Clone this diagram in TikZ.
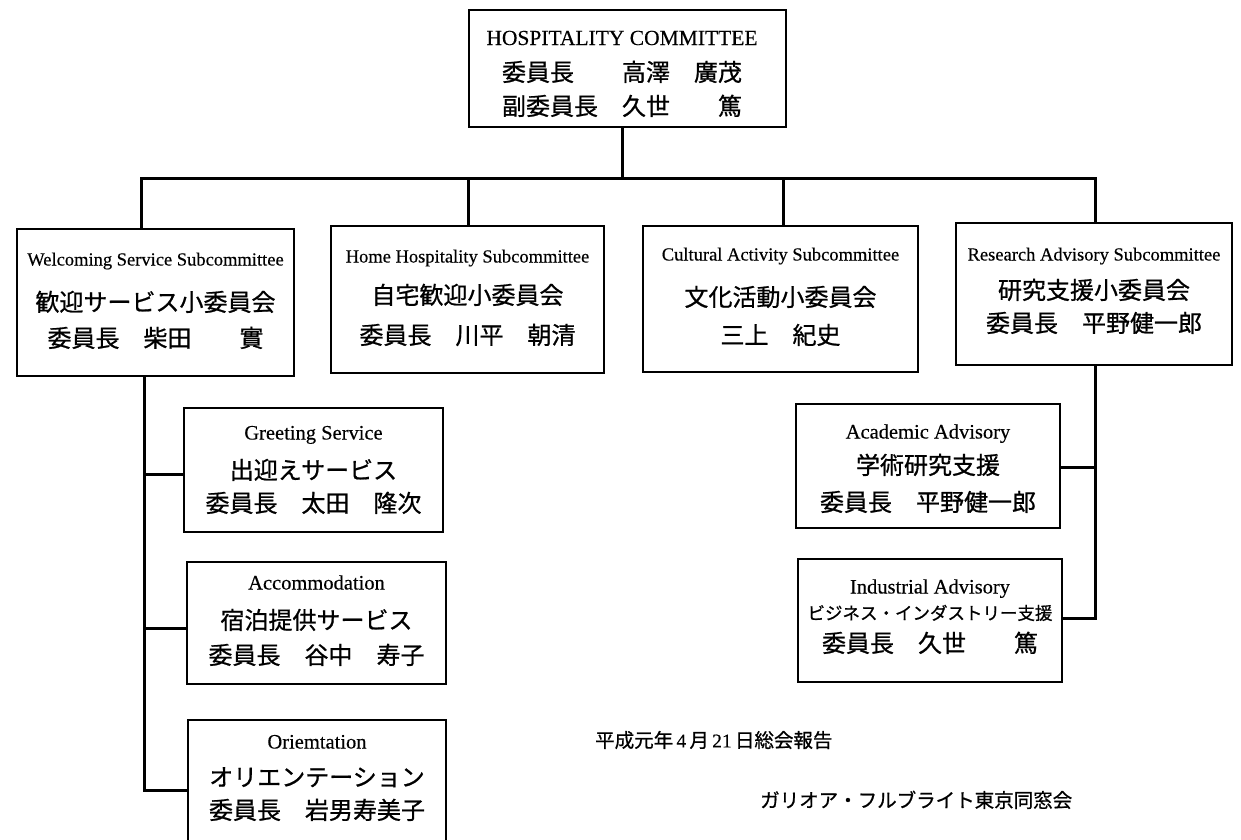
\documentclass[tikz,border=0pt]{standalone}
\usepackage{fontspec}
\setmainfont{Liberation Serif}[FakeBold=0.3]
\newfontfamily\jpfont{Noto Sans CJK JP}[FakeBold=0.8]
\newfontfamily\digitfont{Liberation Serif}[FakeBold=0.3]
\begin{document}
\begin{tikzpicture}[x=1pt,y=-1pt,
  box/.style 2 args={draw,line width=1.7pt,inner sep=0pt,minimum width=#1,minimum height=#2},
  ttl/.style={font=\fontsize{21.5}{24}\selectfont,anchor=base,yshift=-7pt,inner sep=0pt},
  en/.style={font=\fontsize{18.5}{20}\selectfont,anchor=base,yshift=-5.5pt,inner sep=0pt},
  ens/.style={font=\fontsize{20.5}{22}\selectfont,anchor=base,yshift=-6.5pt,inner sep=0pt},
  jp/.style={font=\jpfont\fontsize{24}{26}\selectfont,anchor=base,yshift=-9pt,inner sep=0pt},
  jps/.style={font=\jpfont\fontsize{17.5}{20}\selectfont,anchor=base,yshift=-6.6pt,inner sep=0pt},
  note/.style={font=\jpfont\fontsize{19.5}{22}\selectfont,anchor=base west,yshift=-7.4pt,inner sep=0pt},
  wire/.style={line width=3pt}]
\useasboundingbox[fill=white] (0,0) rectangle (1241,839);
\clip (0,0) rectangle (1241,839);

% boxes
\node[box={317pt}{117pt}] (top) at (627.5,68.5) {};
\node[box={277pt}{147pt}] (wel) at (155.5,302.5) {};
\node[box={273pt}{147pt}] (home) at (467.5,299.5) {};
\node[box={275pt}{146pt}] (cult) at (780.5,299) {};
\node[box={276pt}{142pt}] (res) at (1094,294) {};
\node[box={259pt}{124pt}] (greet) at (313.5,470) {};
\node[box={259pt}{122pt}] (accom) at (316.5,623) {};
\node[box={258pt}{140pt}] (orient) at (317,790) {};
\node[box={264pt}{124pt}] (acad) at (928,466) {};
\node[box={264pt}{123pt}] (ind) at (930,620.5) {};

% texts
\node[ttl] (top-en) at (622,38) {HOSPITALITY COMMITTEE};
\node[jp] (top-j1) at (622,72) {委員長　　高澤　廣茂};
\node[jp] (top-j2) at (622,106) {副委員長　久世　　篤};

\node[en] (wel-en) at (155.5,260) {Welcoming Service Subcommittee};
\node[jp] (wel-j1) at (155.5,302) {歓迎サービス小委員会};
\node[jp] (wel-j2) at (155.5,338) {委員長　柴田　　實};

\node[en] (home-en) at (467.5,257) {Home Hospitality Subcommittee};
\node[jp] (home-j1) at (467.5,295) {自宅歓迎小委員会};
\node[jp] (home-j2) at (467.5,335) {委員長　川平　朝清};

\node[en] (cult-en) at (780.5,255) {Cultural Activity Subcommittee};
\node[jp] (cult-j1) at (780.5,297) {文化活動小委員会};
\node[jp] (cult-j2) at (780.5,335) {三上　紀史};

\node[en] (res-en) at (1094,255) {Research Advisory Subcommittee};
\node[jp] (res-j1) at (1094,290) {研究支援小委員会};
\node[jp] (res-j2) at (1094,323) {委員長　平野健一郎};

\node[ens] (greet-en) at (313.5,433) {Greeting Service};
\node[jp] (greet-j1) at (313.5,470) {出迎えサービス};
\node[jp] (greet-j2) at (313.5,503) {委員長　太田　隆次};

\node[ens] (accom-en) at (316.5,583) {Accommodation};
\node[jp] (accom-j1) at (316.5,620) {宿泊提供サービス};
\node[jp] (accom-j2) at (316.5,655) {委員長　谷中　寿子};

\node[ens] (orient-en) at (317,742) {Oriemtation};
\node[jp] (orient-j1) at (317,777) {オリエンテーション};
\node[jp] (orient-j2) at (317,810) {委員長　岩男寿美子};

\node[ens] (acad-en) at (928,432) {Academic Advisory};
\node[jp] (acad-j1) at (928,465) {学術研究支援};
\node[jp] (acad-j2) at (928,502) {委員長　平野健一郎};

\node[ens] (ind-en) at (930,587) {Industrial Advisory};
\node[jps] (ind-j1) at (930,613) {ビジネス・インダストリー支援};
\node[jp] (ind-j2) at (930,643) {委員長　久世　　篤};

\node[note] (date) at (595,740) {平成元年\,{\digitfont 4}\,月\,{\digitfont 21}\,日総会報告};
\node[note] (assoc) at (760,800) {ガリオア・フルブライト東京同窓会};

% connectors
\coordinate (bT) at (622,178);
\coordinate (bL) at (141,178);
\coordinate (bH) at (468,178);
\coordinate (bC) at (783,178);
\coordinate (bR) at (1095,178);
\draw[wire] (top.south -| bT) -- (bT);
\draw[wire] (wel.north -| bL) -- (bL) -- (bR) -- (res.north -| bR);
\draw[wire] (bH) -- (home.north -| bH);
\draw[wire] (bC) -- (cult.north -| bC);

\coordinate (l1) at (144,474);
\coordinate (l2) at (144,628);
\coordinate (l3) at (144,790);
\draw[wire] (wel.south -| l1) -- (l3) -- (orient.west |- l3);
\draw[wire] (l1) -- (greet.west |- l1);
\draw[wire] (l2) -- (accom.west |- l2);

\coordinate (r1) at (1095,467);
\coordinate (r2) at (1095,618);
\draw[wire] (res.south -| r1) -- (r2) -- (ind.east |- r2);
\draw[wire] (r1) -- (acad.east |- r1);
\end{tikzpicture}
\end{document}
